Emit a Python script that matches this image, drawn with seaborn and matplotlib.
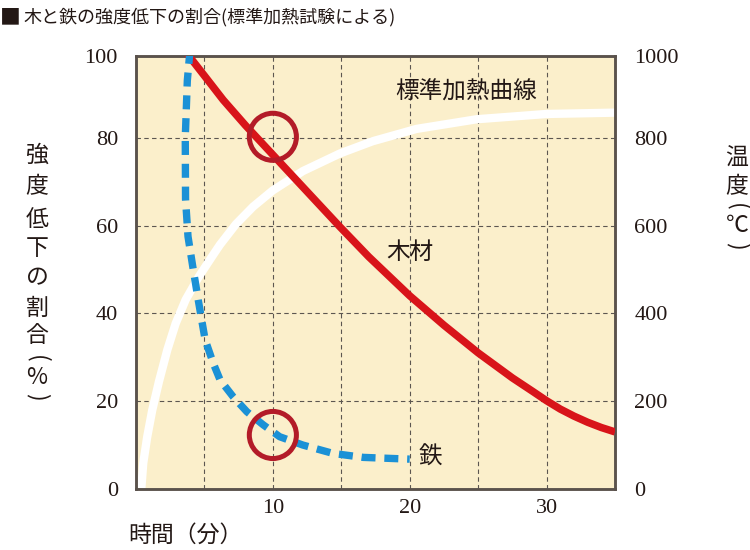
import matplotlib
matplotlib.use('Agg')
import matplotlib.pyplot as plt
import seaborn as sns
import pandas as pd

sns.set_theme(style='white')
plt.rcParams['font.family'] = ['Noto Sans CJK JP', 'DejaVu Sans']

# ---- data ----
# standard heating curve: time (min) and temperature (°C)
heat_t = [0.39, 0.53, 0.82, 1.19, 1.68, 2.29, 2.9, 3.63, 4.6, 5.57, 6.13, 7.3, 8.56,
          10.0, 12.2, 14.9, 17.3, 20.5, 24.9, 30.0, 35.0]
heat_c = [2, 59, 119, 180, 245, 317, 377, 431, 484, 530, 556, 603, 643,
          680, 724, 764, 792, 820, 842, 854, 857]
# wood: time (min) and strength ratio (%)
wood_t = [3.3, 3.87, 5.0, 6.37, 8.0, 10.0, 12.0, 14.9, 17.0, 20.0, 22.5, 25.0,
          27.5, 29.0, 30.0, 31.0, 32.0, 33.0, 34.0, 35.0]
wood_v = [101, 98.6, 94.1, 88.6, 82.8, 76.1, 69.4, 59.7, 52.9, 44.0, 37.3, 31.0,
          25.3, 22.2, 20.1, 18.2, 16.6, 15.2, 14.0, 13.0]
# steel: time (min) and strength ratio (%)
steel_t = [3.95, 3.75, 3.6, 3.62, 3.8, 4.15, 4.55, 5.05, 5.65, 6.15, 7.1, 8.1, 9.3,
           10.5, 12.2, 14.4, 16.6, 20.0]
steel_v = [100, 93, 80, 66, 57.5, 50.6, 43, 34, 28.6, 24.8, 21, 17.6, 14.6,
           11.9, 10, 8.1, 7.2, 6.8]
# highlighted points (circles)
mark_t = [10, 10]
mark_v = [80.2, 12.3]

x_ticks = [10, 20, 30]
y_ticks = [0, 20, 40, 60, 80]
y_tick_labels = ['0', '20', '40', '60', '80']
t_tick_labels = ['0', '200', '400', '600', '800']

title = '木と鉄の強度低下の割合(標準加熱試験による)'
xlabel = '時間（分）'
ylabel_left = '強度低下の割合(%)'
ylabel_right = '温度(℃)'

# ---- styling ----
BG = '#fbefcb'
RED = '#d8141a'
BLUE = '#1b91d6'
CIRCLE = '#b31b28'
GRID = '#5c5650'
SPINE = '#5a524c'
INK = '#231815'
YTOP = 98.6
SERIF = 'Liberation Serif'

fig = plt.figure(figsize=(7.5, 5.5), dpi=100)
ax = fig.add_axes([136/750, 1-489/550, (615-136)/750, (489-56)/550])
ax2 = ax.twinx()
# ax2 (temperature) is the bottom layer carrying background, grid and heating curve
ax2.set_zorder(1)
ax.set_zorder(2)
ax.patch.set_visible(False)
ax2.patch.set_visible(True)
ax2.patch.set_facecolor(BG)

ax.set_xlim(0, 35)
ax.set_ylim(0, YTOP)
ax2.set_ylim(0, YTOP*10)

# grid (on the bottom layer)
for gx in [5, 10, 15, 20, 25, 30]:
    ax2.axvline(gx, color=GRID, lw=0.8, ls=(0, (4, 3)), zorder=1)
for gy in [200, 400, 600, 800]:
    ax2.axhline(gy, color=GRID, lw=0.8, ls=(0, (4, 3)), zorder=1)

heat_df = pd.DataFrame({'t': heat_t, 'c': heat_c})
wood_df = pd.DataFrame({'t': wood_t, 'v': wood_v})
steel_df = pd.DataFrame({'t': steel_t, 'v': steel_v})
mark_df = pd.DataFrame({'t': mark_t, 'v': mark_v})

sns.lineplot(data=heat_df, x='t', y='c', ax=ax2, color='white', lw=6.0,
             sort=False, estimator=None, zorder=2, solid_capstyle='butt')
sns.lineplot(data=wood_df, x='t', y='v', ax=ax, color=RED, lw=5.4,
             sort=False, estimator=None, zorder=3, solid_capstyle='butt')
sns.lineplot(data=steel_df, x='t', y='v', ax=ax, color=BLUE, lw=5.3,
             sort=False, estimator=None, zorder=4,
             linestyle=(0, (1.9, 1.2)), dash_capstyle='butt')
sns.scatterplot(data=mark_df, x='t', y='v', ax=ax, s=1150, marker='o',
                facecolors='none', edgecolors=CIRCLE, linewidth=3.6, zorder=5)

ax.set_xlabel('')
ax.set_ylabel('')
ax2.set_ylabel('')
ax2.set_xlabel('')

# ticks
ax.set_xticks(x_ticks)
ax.set_xticklabels([str(v) for v in x_ticks], fontsize=16, family=SERIF, color=INK)
ax.set_yticks(y_ticks + [YTOP])
ax.set_yticklabels(y_tick_labels + ['100'], fontsize=16, family=SERIF, color=INK)
ax2.set_yticks([v*10 for v in y_ticks] + [YTOP*10])
ax2.set_yticklabels(t_tick_labels + ['1000'], fontsize=16, family=SERIF, color=INK)
ax.tick_params(axis='y', length=0, pad=13)
ax.tick_params(axis='x', length=0, pad=7)
ax2.tick_params(axis='y', length=0, pad=14)

for a in (ax, ax2):
    for s in a.spines.values():
        s.set_color(SPINE)
        s.set_linewidth(1.8)
        s.set_visible(True)

# annotations
ax.text(24.1, 90.4, '標準加熱曲線', fontsize=17, ha='center', va='center', color=INK, zorder=6)
ax.text(20.0, 53.8, '木材', fontsize=17, ha='center', va='center', color=INK, zorder=6)
ax.text(21.5, 7.3, '鉄', fontsize=17, ha='center', va='center', color=INK, zorder=6)

# title and axis labels
fig.text(0.0, 1-17/550, '■', fontsize=15, ha='left', va='center', color=INK)
fig.text(23/750, 1-17/550, title, fontsize=13, ha='left', va='center', color=INK)
fig.text(185/750, 1-535/550, xlabel, fontsize=16.5, ha='center', va='center', color=INK)


def vertical_label(text, xpix, ypix_list):
    # vertical (tategaki) writing: brackets turned sideways
    for ch, py in zip(text, ypix_list):
        rot = -90 if ch in '()' else 0
        fig.text(xpix/750, 1-py/550, ch, fontsize=16.5, ha='center', va='center',
                 color=INK, rotation=rot, rotation_mode='anchor' if rot == 0 else 'default')


vertical_label(ylabel_left, 37, [155, 187, 219, 249, 278, 308, 336, 359, 378, 397])
vertical_label(ylabel_right, 737, [158, 187, 207, 226, 246])

fig.savefig('out.png', dpi=100, facecolor='white')
